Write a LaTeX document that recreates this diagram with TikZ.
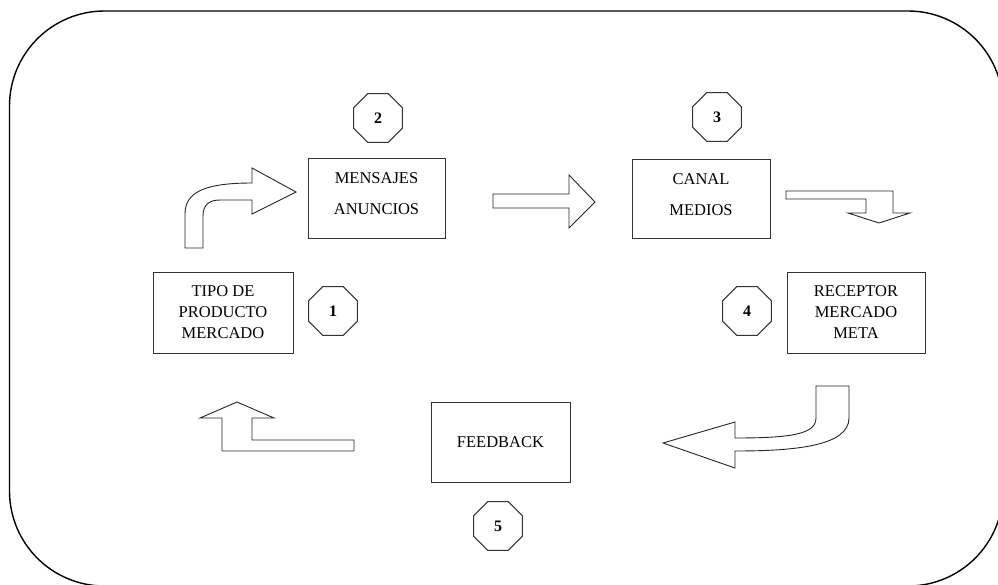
\documentclass[tikz,border=0pt]{standalone}
\usepackage{fontspec}
\setmainfont{Liberation Serif}
\usetikzlibrary{shapes.geometric}
% two text lines set a little above the middle of their box
\newcommand{\twolines}[2]{#1\\[10pt]#2\rule[-8pt]{0pt}{8pt}}
\tikzset{
  stagebox/.style={draw=black!80, line width=1pt, fill=white, inner sep=0pt,
    align=center, font=\fontsize{16.5}{21}\selectfont},
  octo/.style={draw=black!80, line width=1pt, regular polygon, regular polygon sides=8,
    minimum size=53pt, inner sep=0pt, font=\fontsize{16}{18}\selectfont\bfseries},
  blockarrow/.style={draw=black!85, line width=0.9pt, fill=white, line join=miter},
  frame/.style={draw=black, line width=1.4pt, rounded corners=95pt}
}
\begin{document}
\begin{tikzpicture}[x=1pt, y=-1pt]
\useasboundingbox (0,0) rectangle (998,584);
\clip (0,0) rectangle (998,584);
\fill[white] (0,0) rectangle (998,584);

% outer frame
\draw[frame] (9.5,11) rectangle (1003,586);

% stages
\node[stagebox, minimum width=140pt, minimum height=81pt] (tipo) at (223,312.5)
  {TIPO DE\\PRODUCTO\\MERCADO};
\node[stagebox, minimum width=137pt, minimum height=80pt] (mens) at (376.5,198)
  {\twolines{MENSAJES}{ANUNCIOS}};
\node[stagebox, minimum width=138pt, minimum height=79pt] (canal) at (701,198.5)
  {\twolines{CANAL}{MEDIOS}};
\node[stagebox, minimum width=138pt, minimum height=81pt] (recep) at (856,312.5)
  {RECEPTOR\\MERCADO\\META};
\node[stagebox, minimum width=139pt, minimum height=80pt] (feed) at (500.5,442)
  {FEEDBACK};

% step numbers
\node[octo] (n1) at (333,311) {1};
\node[octo] (n2) at (378,118) {2};
\node[octo] (n3) at (717,117) {3};
\node[octo] (n4) at (747,311) {4};
\node[octo] (n5) at (498,526) {5};

% curved arrow: product -> messages
\draw[blockarrow] (185,248) -- (185,214)
  .. controls (185,192) and (205,183) .. (252,183)
  -- (252,168) -- (296,192) -- (252,214) -- (252,200) -- (220,200)
  .. controls (209,200) and (203,205) .. (203,216) -- (203,248) -- cycle;

% straight arrow: messages -> channel
\draw[blockarrow] (493,194) -- (569,194) -- (569,175) -- (595,202)
  -- (569,228) -- (569,208) -- (493,208) -- cycle;

% bent arrow: channel -> receiver
\draw[blockarrow] (786,191) -- (893,191) -- (893,213) -- (910,213)
  -- (879,223) -- (848,213) -- (866,213) -- (866,199) -- (786,199) -- cycle;

% curved arrow: receiver -> feedback
\draw[blockarrow] (816,386) -- (849,386) -- (849,418)
  .. controls (849,446) and (795,451) .. (735,451)
  -- (735,468) -- (663,443) -- (735,422) -- (735,438)
  .. controls (792,438) and (816,434) .. (816,418) -- cycle;

% bent arrow: feedback -> product
\draw[blockarrow] (354,440) -- (354,451) -- (222,451) -- (222,418)
  -- (200,418) -- (237,402) -- (274,418) -- (252,418) -- (252,440) -- cycle;
\end{tikzpicture}
\end{document}
